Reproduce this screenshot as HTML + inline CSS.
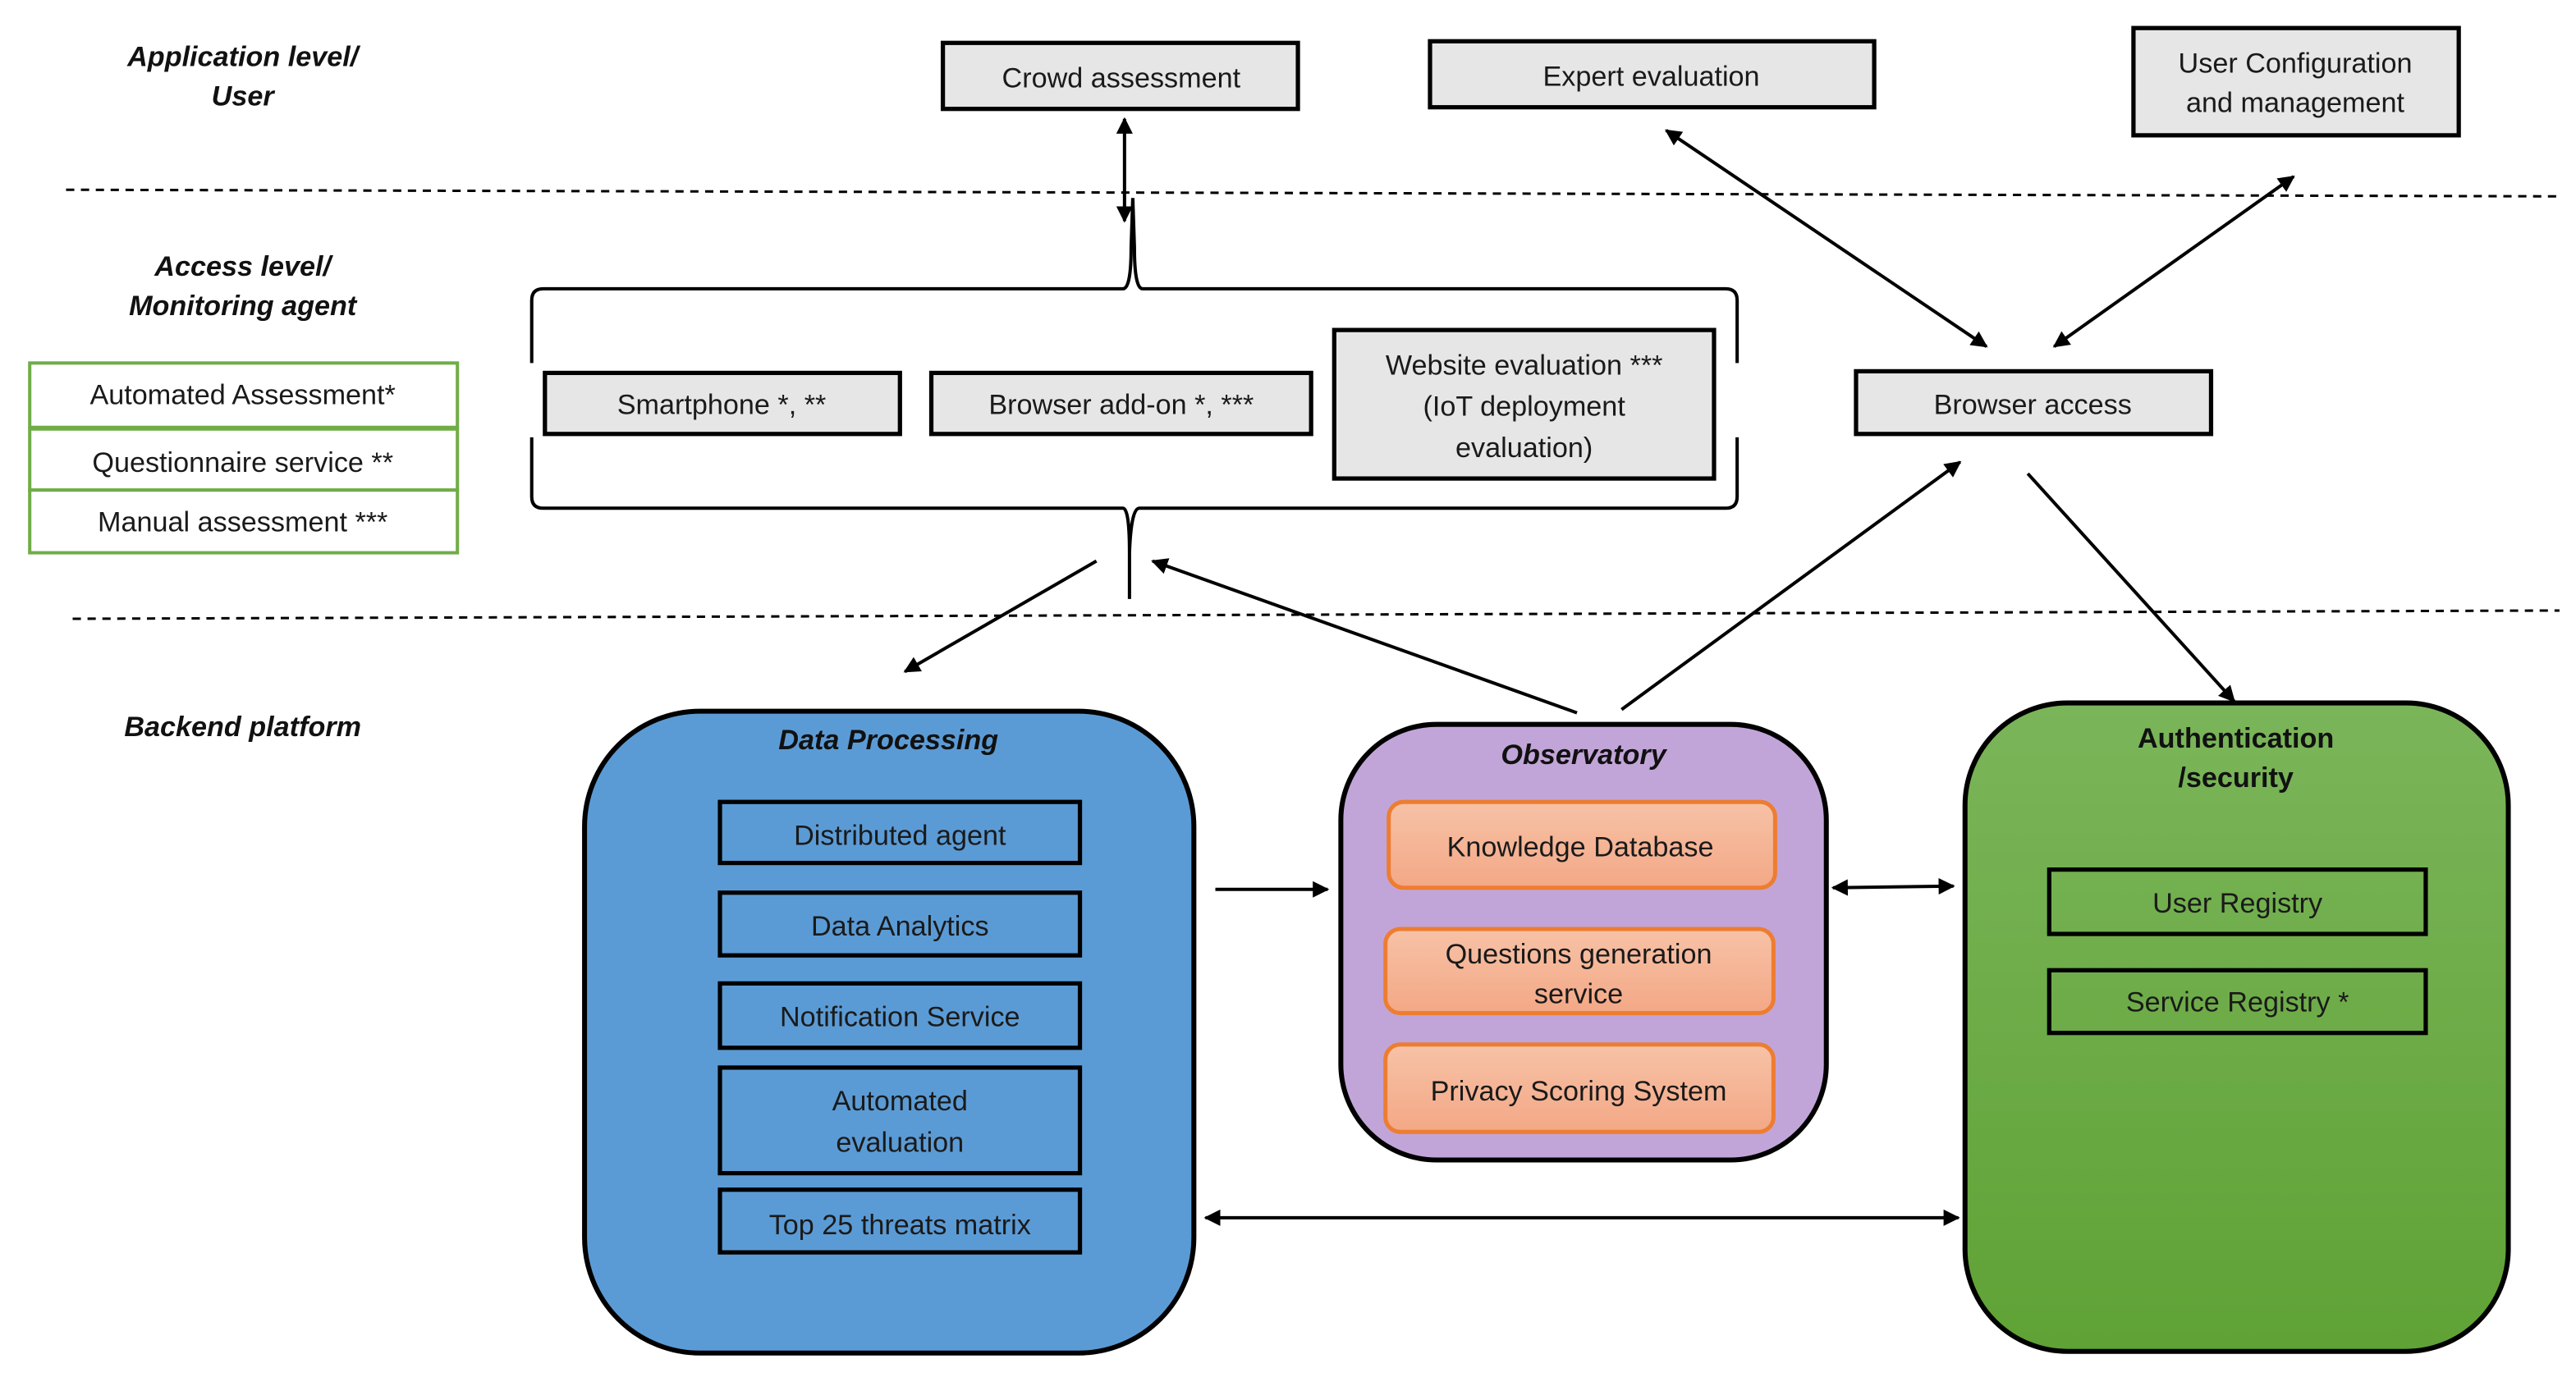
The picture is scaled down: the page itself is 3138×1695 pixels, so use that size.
<!DOCTYPE html>
<html><head><meta charset="utf-8"><style>
html,body{margin:0;padding:0;background:#fff;}
svg{display:block;}
text{font-family:"Liberation Sans",sans-serif;}
.t{font-size:17px;fill:#1a1a1a;text-anchor:middle;}
.h{font-size:17px;font-weight:bold;font-style:italic;fill:#111;text-anchor:middle;}
.gb{fill:#e6e6e6;stroke:#000;stroke-width:2.6;}
.ln{stroke:#000;stroke-width:2;fill:none;}
</style></head><body>
<svg width="3138" height="1695" viewBox="0 0 1560 843" preserveAspectRatio="none" xmlns="http://www.w3.org/2000/svg">
<defs>
<marker id="a" viewBox="0 0 10 10" refX="9" refY="5" markerWidth="5" markerHeight="5" orient="auto-start-reverse"><path d="M0,0 L10,5 L0,10 z" fill="#000"/></marker>
<linearGradient id="g" x1="0" y1="0" x2="0" y2="1"><stop offset="0" stop-color="#7bb55a"/><stop offset="1" stop-color="#5fa235"/></linearGradient>
<linearGradient id="o" x1="0" y1="0" x2="0" y2="1"><stop offset="0" stop-color="#f7c2a6"/><stop offset="1" stop-color="#f3a886"/></linearGradient>
</defs>
<line x1="40" y1="115" x2="1550" y2="119" stroke="#000" stroke-width="1.5" stroke-dasharray="5,4"/>
<line x1="44" y1="375" x2="1550" y2="370" stroke="#000" stroke-width="1.5" stroke-dasharray="5,4"/>
<text class="h" x="147" y="40">Application level/</text>
<text class="h" x="147" y="64">User</text>
<text class="h" x="147" y="167">Access level/</text>
<text class="h" x="147" y="191">Monitoring agent</text>
<text class="h" x="147" y="446">Backend platform</text>
<g fill="#fff" stroke="#70ad47" stroke-width="2">
<rect x="18" y="220" width="259" height="39"/><rect x="18" y="260" width="259" height="37"/><rect x="18" y="297" width="259" height="38"/></g>
<text class="t" x="147" y="245">Automated Assessment*</text>
<text class="t" x="147" y="286">Questionnaire service **</text>
<text class="t" x="147" y="322">Manual assessment ***</text>
<rect class="gb" x="571" y="26" width="215" height="40"/><text class="t" x="679" y="53">Crowd assessment</text>
<rect class="gb" x="866" y="25" width="269" height="40"/><text class="t" x="1000" y="52">Expert evaluation</text>
<rect class="gb" x="1292" y="17" width="197" height="65"/><text class="t" x="1390" y="44">User Configuration</text><text class="t" x="1390" y="68">and management</text>
<path class="ln" d="M322,220 L322,182 Q322,175 329,175 L680,175 Q685,175 685,150 L686,120 L687,150 Q687,175 692,175 L1045,175 Q1052,175 1052,182 L1052,220"/>
<path class="ln" d="M322,265 L322,301 Q322,308 329,308 L680,308 Q684,308 684,335 L684,363 M684,335 Q685,308 690,308 L1045,308 Q1052,308 1052,301 L1052,265"/>
<rect class="gb" x="330" y="226" width="215" height="37"/><text class="t" x="437" y="251">Smartphone *, **</text>
<rect class="gb" x="564" y="226" width="230" height="37"/><text class="t" x="679" y="251">Browser add-on *, ***</text>
<rect class="gb" x="808" y="200" width="230" height="90"/><text class="t" x="923" y="227">Website evaluation ***</text><text class="t" x="923" y="252">(IoT deployment</text><text class="t" x="923" y="277">evaluation)</text>
<rect class="gb" x="1124" y="225" width="215" height="38"/><text class="t" x="1231" y="251">Browser access</text>
<g class="ln" marker-end="url(#a)">
<line x1="681" y1="72" x2="681" y2="134" marker-start="url(#a)"/>
<line x1="1009" y1="79" x2="1203" y2="210" marker-start="url(#a)"/>
<line x1="1389" y1="107" x2="1244" y2="210" marker-start="url(#a)"/>
<line x1="955" y1="432" x2="698" y2="340"/>
<line x1="664" y1="340" x2="548" y2="407"/>
<line x1="982" y1="430" x2="1187" y2="280"/>
<line x1="1228" y1="287" x2="1353" y2="425"/>
<line x1="736" y1="539" x2="804" y2="539"/>
<line x1="1110" y1="538" x2="1183" y2="537" marker-start="url(#a)"/>
<line x1="730" y1="738" x2="1186" y2="738" marker-start="url(#a)"/>
</g>
<rect x="354" y="431" width="369" height="389" rx="70" fill="#5b9bd5" stroke="#000" stroke-width="3"/>
<text class="h" x="538" y="454">Data Processing</text>
<g fill="none" stroke="#000" stroke-width="2.6">
<rect x="436" y="486" width="218" height="37"/><rect x="436" y="541" width="218" height="38"/><rect x="436" y="596" width="218" height="39"/><rect x="436" y="647" width="218" height="64"/><rect x="436" y="721" width="218" height="38"/></g>
<text class="t" x="545" y="512">Distributed agent</text>
<text class="t" x="545" y="567">Data Analytics</text>
<text class="t" x="545" y="622">Notification Service</text>
<text class="t" x="545" y="673">Automated</text><text class="t" x="545" y="698">evaluation</text>
<text class="t" x="545" y="748">Top 25 threats matrix</text>
<rect x="812" y="439" width="294" height="264" rx="58" fill="#c2a5d8" stroke="#000" stroke-width="3"/>
<text class="h" x="959" y="463">Observatory</text>
<g fill="url(#o)" stroke="#ed7d31" stroke-width="2.5">
<rect x="841" y="486" width="234" height="52" rx="9"/><rect x="839" y="563" width="235" height="51" rx="9"/><rect x="839" y="633" width="235" height="53" rx="9"/></g>
<text class="t" x="957" y="519">Knowledge Database</text>
<text class="t" x="956" y="584">Questions generation</text><text class="t" x="956" y="608">service</text>
<text class="t" x="956" y="667">Privacy Scoring System</text>
<rect x="1190" y="426" width="329" height="393" rx="62" fill="url(#g)" stroke="#000" stroke-width="3"/>
<text class="h" x="1354" y="453" style="font-style:normal">Authentication</text>
<text class="h" x="1354" y="477" style="font-style:normal">/security</text>
<g fill="none" stroke="#000" stroke-width="2.6"><rect x="1241" y="527" width="228" height="39"/><rect x="1241" y="588" width="228" height="38"/></g>
<text class="t" x="1355" y="553">User Registry</text>
<text class="t" x="1355" y="613">Service Registry *</text>
</svg>
</body></html>
